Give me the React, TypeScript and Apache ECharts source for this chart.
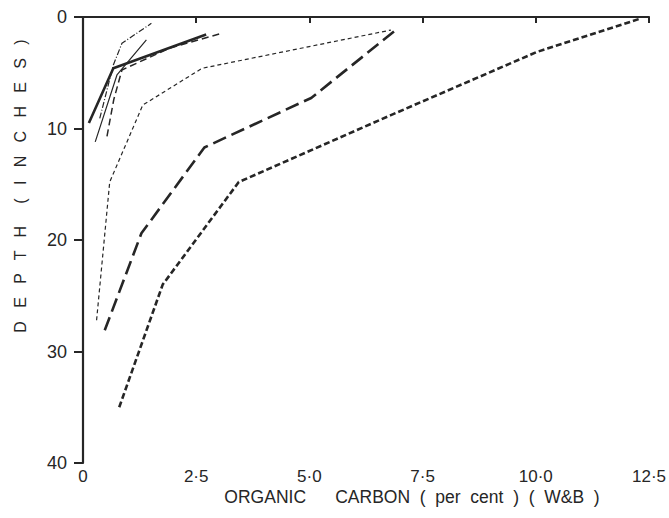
import React, { useEffect, useRef } from "react";
import * as echarts from "echarts";

const xTickLabels = ["0", "2·5", "5·0", "7·5", "10·0", "12·5"];
const yTickLabels = ["0", "10", "20", "30", "40"];
const xAxisName = "ORGANIC      CARBON  (  per  cent  )  (  W&B  )";
const yAxisName = "D   E   P   T   H     (   I   N   C   H   E   S   )";

// [organic carbon %, depth inches]
const heavyDotted = [[0.8, 35.0], [1.76, 24.0], [3.44, 14.8], [6.8, 8.8], [10.02, 3.14], [12.28, 0.18]];
const longDash = [[0.48, 28.1], [1.29, 19.4], [2.68, 11.7], [5.04, 7.26], [6.91, 1.17]];
const thinDashed = [[0.3, 27.2], [0.59, 14.8], [1.32, 7.9], [2.63, 4.6], [6.8, 1.17]];
const thickSolid = [[0.13, 9.5], [0.67, 4.6], [2.72, 1.57]];
const thinSolid = [[0.27, 11.2], [0.75, 5.2], [1.4, 2.06]];
const dashDot = [[0.37, 9.1], [0.67, 4.3], [0.86, 2.36], [1.51, 0.57]];
const mediumDash = [[0.53, 10.7], [0.68, 7.4], [0.86, 4.75], [1.91, 2.8], [3.09, 1.43]];

const INK = "#262626";
const FONT = "Liberation Sans";

function line(name: string, data: number[][], width: number, type: any) {
  return {
    name,
    type: "line",
    data,
    symbol: "none",
    lineStyle: { color: INK, width, type, cap: "butt" },
    z: 3,
  };
}

export default function App() {
  const ref = useRef<HTMLDivElement>(null);
  useEffect(() => {
    if (!ref.current) return;
    const chart = echarts.init(ref.current, undefined, { renderer: "svg" });
    chart.setOption({
      animation: false,
      backgroundColor: "#ffffff",
      textStyle: { fontFamily: FONT },
      grid: { left: 83, right: 16, top: 17, bottom: 55 },
      graphic: [
        {
          type: "text",
          x: 20,
          y: 186,
          rotation: Math.PI / 2,
          style: {
            text: yAxisName,
            fill: INK,
            font: `16px "${FONT}"`,
            align: "center",
            verticalAlign: "middle",
          },
        },
        {
          type: "text",
          x: 412,
          y: 497,
          style: {
            text: xAxisName,
            fill: INK,
            font: `17.5px "${FONT}"`,
            align: "center",
            verticalAlign: "middle",
          },
        },
      ],
      xAxis: {
        type: "value",
        min: 0,
        max: 12.5,
        interval: 2.5,
        axisLine: { lineStyle: { color: INK, width: 2.2 } },
        axisTick: { length: 6, lineStyle: { color: INK, width: 2 } },
        axisLabel: {
          color: INK,
          fontSize: 17,
          margin: 5,
          formatter: (v: number) => xTickLabels[Math.round(v / 2.5)] ?? "",
        },
        splitLine: { show: false },
      },
      yAxis: {
        type: "value",
        inverse: true,
        min: 0,
        max: 40,
        interval: 10,
        axisLine: { lineStyle: { color: INK, width: 2.2 } },
        axisTick: { length: 9, lineStyle: { color: INK, width: 2 } },
        axisLabel: {
          color: INK,
          fontSize: 18,
          margin: 16,
          formatter: (v: number) => yTickLabels[Math.round(v / 10)] ?? "",
        },
        splitLine: { show: false },
      },
      series: [
        line("heavy dotted", heavyDotted, 2.6, [6, 3]),
        line("long dash", longDash, 2.6, [14, 6]),
        line("thin dashed", thinDashed, 1.2, [4, 3]),
        line("thick solid", thickSolid, 2.6, "solid"),
        line("thin solid", thinSolid, 1.2, "solid"),
        line("dash dot", dashDot, 1.2, [6, 2, 1, 2]),
        line("medium dash", mediumDash, 1.5, [7, 4]),
      ],
    });
    return () => chart.dispose();
  }, []);
  return (
    <div
      ref={ref}
      style={{ position: "fixed", left: 0, top: 0, width: 669, height: 518, background: "#fff" }}
    />
  );
}
